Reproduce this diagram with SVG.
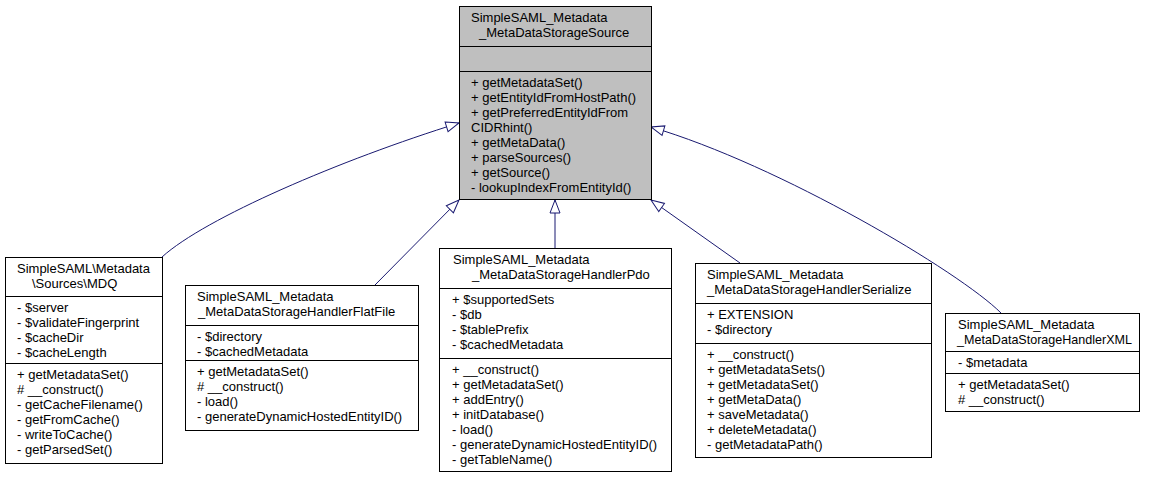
<svg xmlns="http://www.w3.org/2000/svg" width="1154" height="477" viewBox="0 0 1154 477">
<style>
text { font-family: "Liberation Sans", Arial, Helvetica, sans-serif; font-size: 13px; fill: #000; }
.box { fill: #ffffff; stroke: #000000; stroke-width: 1; }
.main { fill: #bfbfbf; stroke: #000000; stroke-width: 1; }
.div { stroke: #000000; stroke-width: 1; }
.edge { fill: none; stroke: #191970; stroke-width: 1; }
</style>
<defs>
<marker id="tri" markerUnits="userSpaceOnUse" markerWidth="16" markerHeight="12" refX="14" refY="6" orient="auto" overflow="visible">
<polygon points="1,1 14,6 1,11" fill="#ffffff" stroke="#191970" stroke-width="1"/>
</marker>
</defs>
<g id="edges">
<path class="edge" d="M162,257 C205,218 340,160 459,123" marker-end="url(#tri)"/>
<path class="edge" d="M375,285 L459,200" marker-end="url(#tri)"/>
<path class="edge" d="M555,248 L555,200" marker-end="url(#tri)"/>
<path class="edge" d="M740,263 L651,200" marker-end="url(#tri)"/>
<path class="edge" d="M1001,313 C960,272 780,165 651,127" marker-end="url(#tri)"/>
</g>
<g id="node-source">
<rect class="main" x="459.5" y="6.5" width="192" height="193"/>
<line class="div" x1="459.5" y1="46.5" x2="651.5" y2="46.5"/>
<line class="div" x1="459.5" y1="71.5" x2="651.5" y2="71.5"/>
<text x="471" y="22">SimpleSAML_Metadata</text>
<text x="479" y="37">_MetaDataStorageSource</text>
<text x="471" y="86.5">+ getMetadataSet()</text>
<text x="471" y="101.5">+ getEntityIdFromHostPath()</text>
<text x="471" y="116.5">+ getPreferredEntityIdFrom</text>
<text x="471" y="131.5">CIDRhint()</text>
<text x="471" y="146.5">+ getMetaData()</text>
<text x="471" y="161.5">+ parseSources()</text>
<text x="471" y="176.5">+ getSource()</text>
<text x="471" y="191.5">- lookupIndexFromEntityId()</text>
</g>
<g id="node-mdq">
<rect class="box" x="5.5" y="257.5" width="157" height="206"/>
<line class="div" x1="5.5" y1="296.5" x2="162.5" y2="296.5"/>
<line class="div" x1="5.5" y1="363.5" x2="162.5" y2="363.5"/>
<text x="17" y="272.5">SimpleSAML\Metadata</text>
<text x="32" y="287.5">\Sources\MDQ</text>
<text x="17" y="311.5">- $server</text>
<text x="17" y="326.5">- $validateFingerprint</text>
<text x="17" y="341.5">- $cacheDir</text>
<text x="17" y="356.5">- $cacheLength</text>
<text x="17" y="378.5">+ getMetadataSet()</text>
<text x="17" y="393.5"># __construct()</text>
<text x="17" y="408.5">- getCacheFilename()</text>
<text x="17" y="423.5">- getFromCache()</text>
<text x="17" y="438.5">- writeToCache()</text>
<text x="17" y="453.5">- getParsedSet()</text>
</g>
<g id="node-flatfile">
<rect class="box" x="185.5" y="285.5" width="233" height="145"/>
<line class="div" x1="185.5" y1="325.5" x2="418.5" y2="325.5"/>
<line class="div" x1="185.5" y1="360.5" x2="418.5" y2="360.5"/>
<text x="197" y="300.5">SimpleSAML_Metadata</text>
<text x="198" y="315.5">_MetaDataStorageHandlerFlatFile</text>
<text x="197" y="340.5">- $directory</text>
<text x="197" y="355.5">- $cachedMetadata</text>
<text x="197" y="375.5">+ getMetadataSet()</text>
<text x="197" y="390.5"># __construct()</text>
<text x="197" y="405.5">- load()</text>
<text x="197" y="420.5">- generateDynamicHostedEntityID()</text>
</g>
<g id="node-pdo">
<rect class="box" x="439.5" y="248.5" width="232" height="223"/>
<line class="div" x1="439.5" y1="288.5" x2="671.5" y2="288.5"/>
<line class="div" x1="439.5" y1="358.5" x2="671.5" y2="358.5"/>
<text x="453" y="263.5">SimpleSAML_Metadata</text>
<text x="472" y="278.5">_MetaDataStorageHandlerPdo</text>
<text x="452" y="303.5">+ $supportedSets</text>
<text x="452" y="318.5">- $db</text>
<text x="452" y="333.5">- $tablePrefix</text>
<text x="452" y="348.5">- $cachedMetadata</text>
<text x="452" y="373.5">+ __construct()</text>
<text x="452" y="388.5">+ getMetadataSet()</text>
<text x="452" y="403.5">+ addEntry()</text>
<text x="452" y="418.5">+ initDatabase()</text>
<text x="452" y="433.5">- load()</text>
<text x="452" y="448.5">- generateDynamicHostedEntityID()</text>
<text x="452" y="463.5">- getTableName()</text>
</g>
<g id="node-serialize">
<rect class="box" x="695.5" y="263.5" width="236" height="194"/>
<line class="div" x1="695.5" y1="303.5" x2="931.5" y2="303.5"/>
<line class="div" x1="695.5" y1="343.5" x2="931.5" y2="343.5"/>
<text x="707" y="278.5">SimpleSAML_Metadata</text>
<text x="707" y="293.5">_MetaDataStorageHandlerSerialize</text>
<text x="707" y="318.5">+ EXTENSION</text>
<text x="707" y="333.5">- $directory</text>
<text x="707" y="358.5">+ __construct()</text>
<text x="707" y="373.5">+ getMetadataSets()</text>
<text x="707" y="388.5">+ getMetadataSet()</text>
<text x="707" y="403.5">+ getMetaData()</text>
<text x="707" y="418.5">+ saveMetadata()</text>
<text x="707" y="433.5">+ deleteMetadata()</text>
<text x="707" y="448.5">- getMetadataPath()</text>
</g>
<g id="node-xml">
<rect class="box" x="945.5" y="313.5" width="194" height="98"/>
<line class="div" x1="945.5" y1="351.5" x2="1139.5" y2="351.5"/>
<line class="div" x1="945.5" y1="373.5" x2="1139.5" y2="373.5"/>
<text x="958" y="328.5">SimpleSAML_Metadata</text>
<text x="957" y="343.5" textLength="175" lengthAdjust="spacingAndGlyphs">_MetaDataStorageHandlerXML</text>
<text x="958" y="366.5">- $metadata</text>
<text x="958" y="388.5">+ getMetadataSet()</text>
<text x="958" y="403.5"># __construct()</text>
</g>
</svg>
